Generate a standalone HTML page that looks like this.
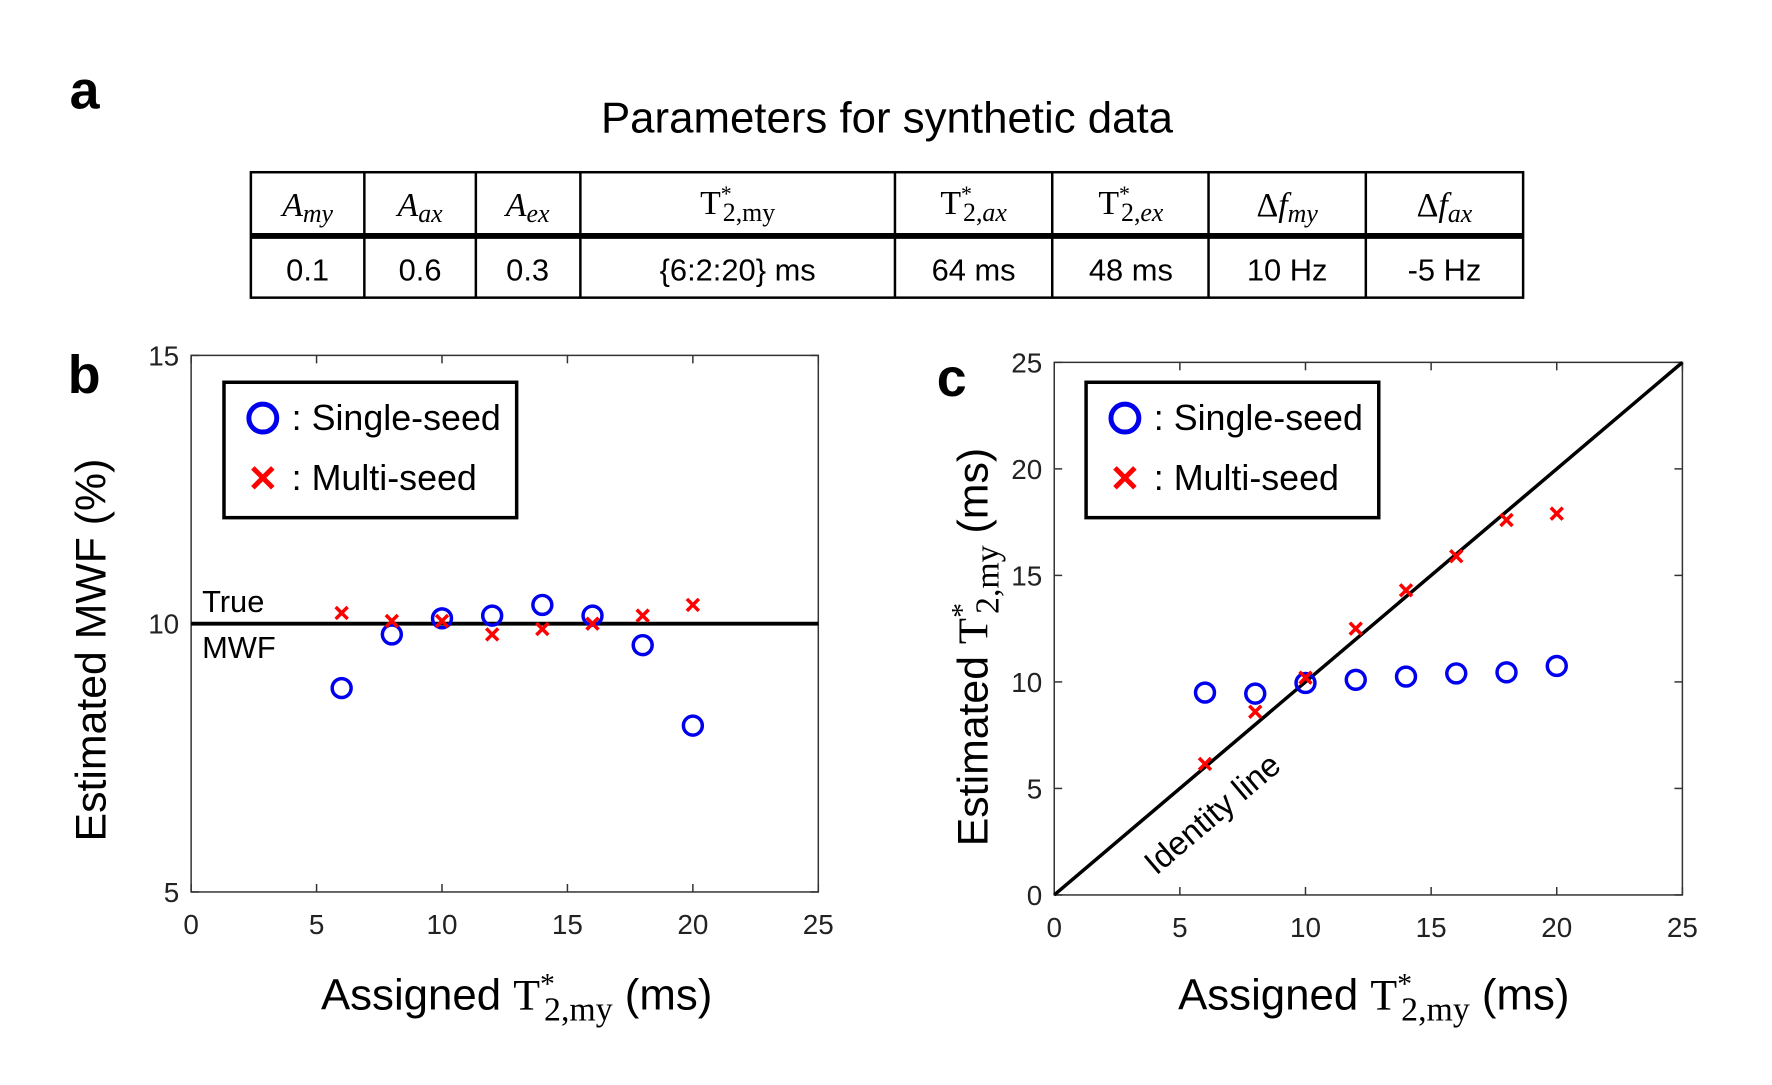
<!DOCTYPE html>
<html><head><meta charset="utf-8"><style>
body{margin:0;background:#fff;}
svg{display:block;font-family:"Liberation Sans",sans-serif;}
</style></head><body>
<svg id="fig" width="1772" height="1085" viewBox="0 0 1772 1085" xmlns="http://www.w3.org/2000/svg">
<g transform="scale(0.9955)">
<text x="70" y="109" font-size="54" font-weight="bold">a</text>
<text x="891" y="133" font-size="44" text-anchor="middle">Parameters for synthetic data</text>
<g font-family="Liberation Serif, serif" font-size="34">
 <rect x="252" y="173" width="1278" height="126" fill="none" stroke="#000" stroke-width="2.5"/>
 <line x1="252" y1="237" x2="1530" y2="237" stroke="#000" stroke-width="6"/>
 <g stroke="#000" stroke-width="2.5">
  <line x1="366" y1="173" x2="366" y2="299"/><line x1="478" y1="173" x2="478" y2="299"/>
  <line x1="583" y1="173" x2="583" y2="299"/><line x1="899" y1="173" x2="899" y2="299"/>
  <line x1="1057" y1="173" x2="1057" y2="299"/><line x1="1214" y1="173" x2="1214" y2="299"/>
  <line x1="1372" y1="173" x2="1372" y2="299"/>
 </g>
 <g text-anchor="middle" font-style="italic">
  <text x="309" y="217">A<tspan font-size="26" dy="6">my</tspan></text>
  <text x="422" y="217">A<tspan font-size="26" dy="6">ax</tspan></text>
  <text x="530" y="217">A<tspan font-size="26" dy="6">ex</tspan></text>
  <text x="741" y="215" font-style="normal">T<tspan font-size="22" dy="-13">*</tspan><tspan font-size="26" dx="-9" dy="20">2,my</tspan></text>
  <text x="978" y="215" font-style="normal">T<tspan font-size="22" dy="-13">*</tspan><tspan font-size="26" dx="-9" dy="20">2,<tspan font-style="italic">ax</tspan></tspan></text>
  <text x="1136" y="215" font-style="normal">T<tspan font-size="22" dy="-13">*</tspan><tspan font-size="26" dx="-9" dy="20">2,<tspan font-style="italic">ex</tspan></tspan></text>
  <text x="1293" y="217"><tspan font-style="normal">Δ</tspan>f<tspan font-size="26" dy="6">my</tspan></text>
  <text x="1451" y="217"><tspan font-style="normal">Δ</tspan>f<tspan font-size="26" dy="6">ax</tspan></text>
 </g>
 <g text-anchor="middle" font-family="Liberation Sans, sans-serif" font-size="31">
  <text x="309" y="282">0.1</text>
  <text x="422" y="282">0.6</text>
  <text x="530" y="282">0.3</text>
  <text x="741" y="282">{6:2:20} ms</text>
  <text x="978" y="282">64 ms</text>
  <text x="1136" y="282">48 ms</text>
  <text x="1293" y="282">10 Hz</text>
  <text x="1451" y="282">-5 Hz</text>
 </g>
</g>
<text x="68" y="395" font-size="54" font-weight="bold">b</text>
<text x="941" y="398" font-size="54" font-weight="bold">c</text>
<g id="pb"></g>
<g id="pc"></g>
</g>
</svg>
<script>
const xsB = [6, 8, 10, 12, 14, 16, 18, 20];
const singleB = [8.8, 9.8, 10.1, 10.15, 10.35, 10.15, 9.6, 8.1];
const multiB = [10.2, 10.05, 10.05, 9.8, 9.9, 10.0, 10.15, 10.35];
const xsC = [6, 8, 10, 12, 14, 16, 18, 20];
const singleC = [9.5, 9.45, 9.95, 10.1, 10.25, 10.4, 10.45, 10.75];
const multiC = [6.15, 8.6, 10.2, 12.5, 14.3, 15.9, 17.6, 17.9];
const xTicks = [0, 5, 10, 15, 20, 25];
const yTicksB = [5, 10, 15];
const yTicksC = [0, 5, 10, 15, 20, 25];
const NS = 'http://www.w3.org/2000/svg';
function mk(parent, tag, attrs, text) {
  const e = document.createElementNS(NS, tag);
  for (const k in attrs) e.setAttribute(k, attrs[k]);
  if (text !== undefined) e.textContent = text;
  parent.appendChild(e);
  return e;
}
function drawPanel(g, box, xr, yr, yt) {
  const sx = v => box.l + (v - xr[0]) / (xr[1] - xr[0]) * (box.r - box.l);
  const sy = v => box.b - (v - yr[0]) / (yr[1] - yr[0]) * (box.b - box.t);
  const frame = mk(g, 'rect', {x: box.l, y: box.t, width: box.r - box.l, height: box.b - box.t, fill: 'none', stroke: '#333', 'stroke-width': 1.5});
  
  
  xTicks.forEach(v => {
    const x = sx(v);
    mk(g, 'line', {x1: x, y1: box.b, x2: x, y2: box.b - 8, stroke: '#333', 'stroke-width': 1.5});
    mk(g, 'line', {x1: x, y1: box.t, x2: x, y2: box.t + 8, stroke: '#333', 'stroke-width': 1.5});
    const t = mk(g, 'text', {x: x, y: box.b + 42, 'font-size': 28, 'text-anchor': 'middle', fill: '#222'}, String(v));
    
    
  });
  yt.forEach(v => {
    const y = sy(v);
    mk(g, 'line', {x1: box.l, y1: y, x2: box.l + 8, y2: y, stroke: '#333', 'stroke-width': 1.5});
    mk(g, 'line', {x1: box.r, y1: y, x2: box.r - 8, y2: y, stroke: '#333', 'stroke-width': 1.5});
    const t = mk(g, 'text', {x: box.l - 12, y: y + 10, 'font-size': 28, 'text-anchor': 'end', fill: '#222'}, String(v));
    
    
  });
  return {sx, sy};
}
function drawMarks(g, sx, sy, xs, s1, s2) {
  xs.forEach((x, i) => {
    const c = mk(g, 'circle', {cx: sx(x), cy: sy(s1[i]), r: 9.5, fill: 'none', stroke: '#0000ee', 'stroke-width': 3.5});
    
    
  });
  xs.forEach((x, i) => {
    const cx = sx(x), cy = sy(s2[i]), d = 6;
    const p = mk(g, 'path', {d: `M${cx-d},${cy-d}L${cx+d},${cy+d}M${cx-d},${cy+d}L${cx+d},${cy-d}`, stroke: '#ff0000', 'stroke-width': 3.5, fill: 'none'});
    
    
  });
}
function legend(g, x, y) {
  const r = mk(g, 'rect', {x: x, y: y, width: 294, height: 136, fill: '#fff', stroke: '#000', 'stroke-width': 3.5});
  
  
  const c = mk(g, 'circle', {cx: x + 39, cy: y + 36, r: 14, fill: 'none', stroke: '#0000ee', 'stroke-width': 5});
  
  
  const t1 = mk(g, 'text', {x: x + 68, y: y + 48, 'font-size': 36}, ': Single-seed');
  
  
  const cx = x + 39, cy = y + 96, d = 10;
  const p = mk(g, 'path', {d: `M${cx-d},${cy-d}L${cx+d},${cy+d}M${cx-d},${cy+d}L${cx+d},${cy-d}`, stroke: '#ff0000', 'stroke-width': 5});
  
  
  const t2 = mk(g, 'text', {x: x + 68, y: y + 108, 'font-size': 36}, ': Multi-seed');
  
  
}
function xLabel(g, cx, y) {
  const t = mk(g, 'text', {x: cx, y: y, 'font-size': 44, 'text-anchor': 'middle'});
  
  
  t.innerHTML = 'Assigned <tspan font-family="Liberation Serif, serif">T<tspan font-size="30" dy="-16">*</tspan><tspan font-size="34" dx="-11" dy="27">2,my</tspan></tspan><tspan dy="-11"> (ms)</tspan>';
}
const gb = document.getElementById('pb');
const B = drawPanel(gb, {l: 192, r: 822, t: 357, b: 896}, [0, 25], [5, 15], yTicksB);
const tl = mk(gb, 'line', {x1: 192, y1: B.sy(10), x2: 822, y2: B.sy(10), stroke: '#000', 'stroke-width': 4});


const tt = mk(gb, 'text', {x: 203, y: 615, 'font-size': 31}, 'True');


const tm = mk(gb, 'text', {x: 203, y: 661, 'font-size': 31}, 'MWF');


drawMarks(gb, B.sx, B.sy, xsB, singleB, multiB);
legend(gb, 225, 384);
const yb = mk(gb, 'text', {x: 0, y: 0, 'font-size': 43, 'text-anchor': 'middle', transform: 'translate(106,653) rotate(-90)'}, 'Estimated MWF (%)');


xLabel(gb, 519, 1014);
const gc = document.getElementById('pc');
const C = drawPanel(gc, {l: 1059, r: 1690, t: 364, b: 899}, [0, 25], [0, 25], yTicksC);
const il = mk(gc, 'line', {x1: C.sx(0), y1: C.sy(0), x2: C.sx(25), y2: C.sy(25), stroke: '#000', 'stroke-width': 3.5});


const it = mk(gc, 'text', {x: 0, y: 0, 'font-size': 33, 'text-anchor': 'middle', transform: 'translate(1225,826) rotate(-40.3)'}, 'Identity line');


drawMarks(gc, C.sx, C.sy, xsC, singleC, multiC);
legend(gc, 1091, 384);
const yc = mk(gc, 'text', {x: 0, y: 0, 'font-size': 43, 'text-anchor': 'middle', transform: 'translate(992,650) rotate(-90)'});


yc.innerHTML = 'Estimated <tspan font-family="Liberation Serif, serif">T<tspan font-size="30" dy="-16">*</tspan><tspan font-size="34" dx="-11" dy="27">2,my</tspan></tspan><tspan dy="-11"> (ms)</tspan>';
xLabel(gc, 1380, 1014);
</script>
</body></html>
